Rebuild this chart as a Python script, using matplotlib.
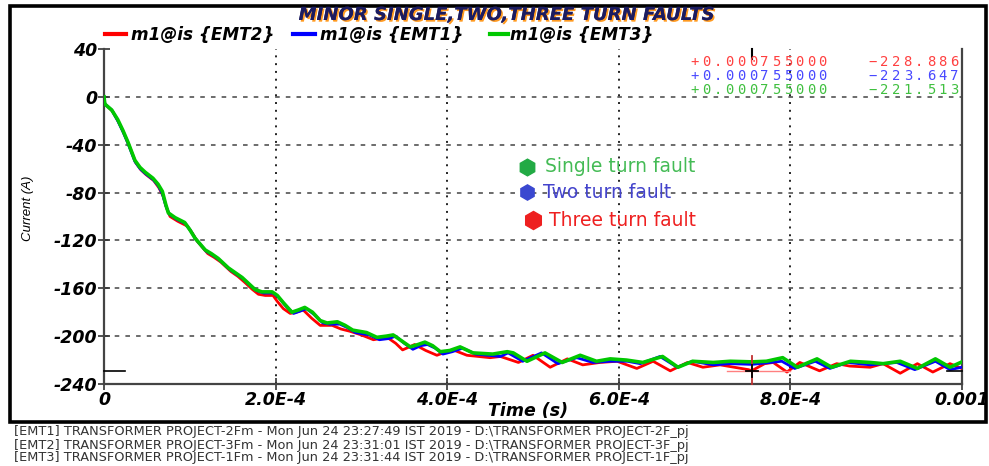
#%% Imports
import numpy as np
import matplotlib
matplotlib.use('Agg')
import matplotlib.pyplot as plt
import matplotlib.patheffects as pe
from matplotlib.lines import Line2D
from matplotlib.patches import Rectangle


#%% Data (time in microseconds, current in A)
t_emt3 = [0, 1, 9, 16, 22, 28, 36, 42, 48, 57, 63, 68, 72, 75, 83, 94, 100, 106, 118, 125,
          133, 145, 153, 161, 170, 176, 184, 196, 202, 209, 219, 227, 234, 243, 252, 260, 272,
          281, 290, 306, 318, 329, 337, 347, 357, 366, 374, 383, 392, 403, 415, 430, 453, 470,
          477, 493, 514, 534, 555, 574, 590, 609, 628, 651, 669, 686, 710, 730, 755, 772, 791,
          808, 831, 848, 870, 893, 908, 928, 948, 969, 986, 1000]
i_emt3 = [0, -6, -11, -19, -28, -38, -53, -59, -63, -68, -73, -79, -90, -97, -101, -105, -111,
          -118, -128, -131, -135, -143, -147, -151, -157, -161, -163, -163, -166, -172, -180,
          -178, -176, -180, -187, -189, -188, -191, -195, -197, -201, -200, -199, -204, -209,
          -207, -205, -208, -213, -212, -209, -214, -215, -213, -214, -221, -214, -222, -216,
          -221, -219, -220, -222, -217, -226, -221, -222, -221, -221.5, -221, -218, -226, -219,
          -226, -221, -222, -223, -221, -227, -219, -226, -221.5]

t_emt1 = [0, 1, 9, 16, 22, 28, 36, 42, 48, 57, 63, 68, 72, 76, 84, 95, 101, 107, 119, 126,
          134, 146, 154, 162, 171, 178, 186, 197, 204, 212, 221, 229, 236, 245, 255, 263, 275,
          284, 293, 309, 321, 332, 340, 350, 360, 369, 377, 386, 395, 406, 418, 433, 462, 471,
          488, 510, 529, 551, 570, 590, 610, 625, 648, 668, 686, 710, 730, 755, 790, 805, 829,
          846, 867, 893, 924, 945, 969, 986, 1000]
i_emt1 = [0, -6, -11, -20, -29, -39, -54, -60, -64, -69, -74, -81, -91, -98, -102, -106, -112,
          -119, -129, -132, -136, -144, -148, -152, -158, -162, -164, -164, -168, -175, -181,
          -179, -177, -182, -189, -190, -190, -193, -197, -199, -203, -202, -200, -206, -211,
          -208, -207, -210, -215, -213, -210, -215, -217, -214, -221, -214, -223, -218, -222,
          -221, -221, -223, -217, -226, -221, -224, -223, -223.6, -221, -227, -221, -227, -222,
          -224, -222, -228, -221, -228, -226]

t_emt2 = [0, 1, 10, 17, 23, 29, 37, 43, 49, 58, 64, 69, 73, 77, 86, 97, 103, 109, 121, 128,
          136, 148, 156, 164, 173, 180, 188, 197, 202, 209, 217, 224, 232, 242, 252, 266, 276,
          287, 300, 314, 322, 331, 340, 348, 356, 362, 375, 388, 399, 407, 423, 450, 462, 483,
          500, 520, 540, 558, 578, 598, 621, 640, 660, 680, 698, 718, 751, 755, 770, 780, 796,
          811, 834, 854, 869, 893, 908, 928, 948, 966, 986, 1000]
i_emt2 = [0, -6, -12, -21, -30, -40, -55, -61, -65, -70, -76, -83, -93, -100, -104, -108, -114,
          -121, -131, -134, -138, -146, -150, -155, -161, -165, -166, -166, -171, -177, -181,
          -180, -178, -185, -191, -191, -194, -196, -199, -203, -202, -201.5, -206, -211.5,
          -209, -207, -212, -216, -213, -211.5, -216, -218, -217, -222, -216, -226, -219, -224,
          -222, -221, -227, -221, -229, -222, -226, -224, -228, -228.9, -223, -222, -230, -222,
          -229, -223, -225, -226, -223, -231, -223, -230, -223, -227]

cursor_t = 755
cursor_values = [-228.886, -223.647, -221.513]
series_names = ['m1@is {EMT2}', 'm1@is {EMT1}', 'm1@is {EMT3}']
series_colors = ['#ff0000', '#0000ff', '#00c800']
y_ticks = [40, 0, -40, -80, -120, -160, -200, -240]
x_ticks = [0, 200, 400, 600, 800, 1000]
x_tick_labels = ['0', '2.0E-4', '4.0E-4', '6.0E-4', '8.0E-4', '0.001']
fault_labels = ['Single turn fault', 'Two turn fault', 'Three turn fault']
footer_lines = [
    r'[EMT1] TRANSFORMER PROJECT-2Fm - Mon Jun 24 23:27:49 IST 2019 - D:\TRANSFORMER PROJECT-2F_pj',
    r'[EMT2] TRANSFORMER PROJECT-3Fm - Mon Jun 24 23:31:01 IST 2019 - D:\TRANSFORMER PROJECT-3F_pj',
    r'[EMT3] TRANSFORMER PROJECT-1Fm - Mon Jun 24 23:31:44 IST 2019 - D:\TRANSFORMER PROJECT-1F_pj',
]

W, H = 989, 466


def fx(px):
    return px / W


def fy(py):
    return 1 - py / H


#%% Figure
fig = plt.figure(figsize=(W / 100, H / 100), dpi=100)
ax = fig.add_axes([fx(104), fy(384), fx(962) - fx(104), fy(49) - fy(384)])

t_s = [np.array(t) * 1e-6 for t in (t_emt2, t_emt1, t_emt3)]
i_s = [np.array(i) for i in (i_emt2, i_emt1, i_emt3)]
for k, (t, i) in enumerate(zip(t_s, i_s)):
    ax.plot(t, i, color=series_colors[k], lw=2.6 if k == 2 else 2.0, zorder=3 + k,
            solid_joinstyle='round')

ax.set_xlim(0, 1e-3)
ax.set_ylim(-240, 40)
ax.set_xticks(np.array(x_ticks) * 1e-6)
ax.set_xticklabels(x_tick_labels)
ax.set_yticks(y_ticks)
ax.set_yticklabels([str(v) for v in y_ticks])
ax.tick_params(direction='inout', length=8, width=1.2, color='#333333', pad=1)
for lab in ax.get_xticklabels() + ax.get_yticklabels():
    lab.set_fontweight('bold')
    lab.set_fontstyle('italic')
    lab.set_fontsize(12.5)

# grid without the end lines
for v in y_ticks[1:-1]:
    ax.axhline(v, color='#444444', lw=1.1, ls=(0, (3, 4)), zorder=1)
for v in x_ticks[1:-1]:
    ax.axvline(v * 1e-6, color='#222222', lw=1.4, ls=(0, (1, 3)), zorder=1)

ax.spines['top'].set_visible(False)
for s in ['left', 'bottom', 'right']:
    ax.spines[s].set_color('#444444')
    ax.spines[s].set_linewidth(1.6)

# cursor
ct = cursor_t * 1e-6
cv = cursor_values[0]
ax.plot([726e-6, 800e-6], [cv, cv], color='#ff8080', lw=1, zorder=6)
ax.plot([ct, ct], [-217, -240], color='#c03030', lw=1.3, zorder=6, clip_on=False)
ax.plot([ct - 7e-6, ct + 7e-6], [cv, cv], color='black', lw=1.3, zorder=7)
ax.plot([ct, ct], [cv - 5, cv + 5], color='black', lw=1.3, zorder=7)
ax.plot([ct, ct], [40, 32], color='black', lw=1.5, zorder=7, clip_on=False)
ax.plot([0, 24e-6], [cv, cv], color='black', lw=1.2, zorder=7, clip_on=False)
ax.plot([982e-6, 1000e-6], [cv, cv], color='black', lw=1.2, zorder=7, clip_on=False)

#%% Texts around the axes
fig.text(fx(528), fy(411), 'Time (s)', ha='center', va='center', fontsize=12.5,
         fontweight='bold', fontstyle='italic')
fig.text(fx(28), fy(208), 'Current (A)', rotation=90, ha='center', va='center',
         fontsize=9.5, fontstyle='italic',
         family=['Liberation Sans Narrow', 'Liberation Sans', 'DejaVu Sans'])

title = fig.text(fx(506), fy(15), 'MINOR SINGLE,TWO,THREE TURN FAULTS', ha='center',
                 va='center', fontsize=13, fontweight='bold', fontstyle='italic',
                 color='#1c1c60')
title.set_path_effects([pe.withSimplePatchShadow(offset=(1.2, -1.2), shadow_rgbFace='#ff9a20',
                                                 alpha=1.0), pe.Normal()])

legend_x = [(105, 126, 131), (293, 315, 320), (490, 508, 510)]
for k, (x0, x1, xt) in enumerate(legend_x):
    fig.add_artist(Line2D([fx(x0), fx(x1)], [fy(34), fy(34)], color=series_colors[k], lw=3,
                          transform=fig.transFigure))
    fig.text(fx(xt), fy(35), series_names[k], ha='left', va='center', fontsize=12.2,
             fontweight='bold', fontstyle='italic', color='black')

# cursor readout, monospaced with wide spacing
readout_colors = ['#ff4040', '#4848ff', '#40c040']
for k, val in enumerate(cursor_values):
    yy = fy(62 + 14 * k)
    left = '+%.9f' % (cursor_t * 1e-6)
    right = ('%.3f' % val).replace('-', '\u2212')
    for j, ch in enumerate(left):
        fig.text(fx(695 + 11.6 * j), yy, ch, ha='center', va='center', fontsize=10,
                 family='DejaVu Sans Mono', color=readout_colors[k])
    for j, ch in enumerate(right):
        fig.text(fx(873 + 11.6 * j), yy, ch, ha='center', va='center', fontsize=10,
                 family='DejaVu Sans Mono', color=readout_colors[k])

# fault annotations
marker_pos = [(527, 167, '#22aa44', 12), (527, 192, '#3a48d0', 11), (533, 220, '#ee2020', 13)]
text_pos = [(545, 167, '#44bb55'), (543, 192, '#4444cc'), (549, 220, '#ee2020')]
for k in range(3):
    mx, my, mc, ms = marker_pos[k]
    fig.add_artist(Line2D([fx(mx)], [fy(my)], marker='h', color=mc, markersize=ms, ls='none',
                          transform=fig.transFigure))
    tx, ty, tc = text_pos[k]
    fig.text(fx(tx), fy(ty), fault_labels[k], ha='left', va='center', fontsize=13.5,
             color=tc, family='DejaVu Sans')

# outer frame
fig.add_artist(Rectangle((fx(10), fy(422)), fx(986) - fx(10), fy(6) - fy(422), fill=False,
                         lw=2.6, edgecolor='black', transform=fig.transFigure))

for k, line in enumerate(footer_lines):
    fig.text(fx(14), fy(432 + 13 * k), line, ha='left', va='center', fontsize=9.3,
             color='#333333', family='DejaVu Sans')

fig.savefig('out.png', dpi=100)
